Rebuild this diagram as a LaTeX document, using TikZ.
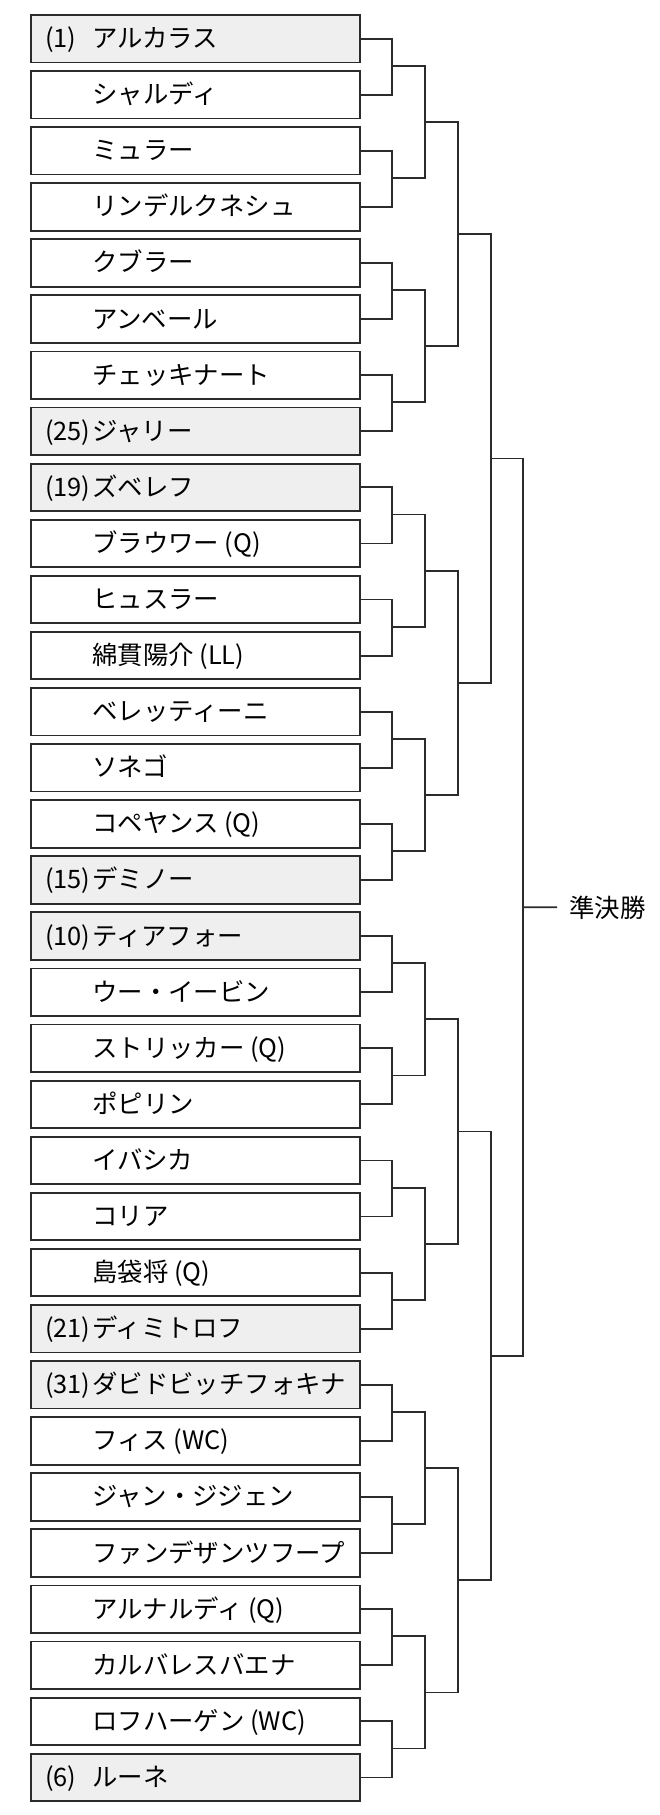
\documentclass[tikz,border=0pt]{standalone}
\usepackage{fontspec}
\setmainfont{Noto Sans CJK JP}
\definecolor{linec}{HTML}{2B2B2B}
\definecolor{seedfill}{HTML}{EFEFEF}
\begin{document}
\begin{tikzpicture}[x=1pt,y=-1pt,
  box/.style={draw=linec, fill=white, line width=1.8pt, minimum width=329pt, minimum height=47.5pt, inner sep=0pt, anchor=north west},
  seedbox/.style={box, fill=seedfill},
  lbl/.style={anchor=base west, inner sep=0pt, font=\fontsize{25.4}{30}\selectfont},
  wire/.style={draw=linec, line width=1.8pt}]
\useasboundingbox (0,0) rectangle (660,1815);
% boxes and names
\foreach \i/\f/\n in {
  0/seedbox/アルカラス, 1/box/シャルディ, 2/box/ミュラー, 3/box/リンデルクネシュ,
  4/box/クブラー, 5/box/アンベール, 6/box/チェッキナート, 7/seedbox/ジャリー,
  8/seedbox/ズベレフ, 9/box/ブラウワー (Q), 10/box/ヒュスラー, 11/box/綿貫陽介 (LL),
  12/box/ベレッティーニ, 13/box/ソネゴ, 14/box/コペヤンス (Q), 15/seedbox/デミノー,
  16/seedbox/ティアフォー, 17/box/ウー・イービン, 18/box/ストリッカー (Q), 19/box/ポピリン,
  20/box/イバシカ, 21/box/コリア, 22/box/島袋将 (Q), 23/seedbox/ディミトロフ,
  24/seedbox/ダビドビッチフォキナ, 25/box/フィス (WC), 26/box/ジャン・ジジェン, 27/box/ファンデザンツフープ,
  28/box/アルナルディ (Q), 29/box/カルバレスバエナ, 30/box/ロフハーゲン (WC), 31/seedbox/ルーネ}
{
  \node[\f] (b\i) at (30,{14+56.09*\i}) {};
  \node[lbl] (n\i) at (92,{37.8+56.09*\i+9.8}) {\n};
}
% seeds
\foreach \i/\s in {0/(1),7/(25),8/(19),15/(15),16/(10),23/(21),24/(31),31/(6)}
{
  \node[lbl] (s\i) at (45,{37.8+56.09*\i+9.8}) {\s};
}
% first round
\foreach \g in {0,...,15}
{
  \pgfmathtruncatemacro\a{2*\g}
  \pgfmathtruncatemacro\b{2*\g+1}
  \coordinate (j1-\g) at (392,{37.8+56.09*(2*\g+0.5)});
  \draw[wire] (b\a.east) -| (j1-\g);
  \draw[wire] (b\b.east) -| (j1-\g);
}
% later rounds
\foreach \L/\m/\x in {2/7/425, 3/3/458, 4/1/491, 5/0/523.3}
{
  \foreach \g in {0,...,\m}
  {
    \pgfmathtruncatemacro\P{\L-1}
    \pgfmathtruncatemacro\a{2*\g}
    \pgfmathtruncatemacro\b{2*\g+1}
    \pgfmathsetmacro\yy{37.8+56.09*(\g*2^\L+(2^\L-1)/2)}
    \coordinate (j\L-\g) at (\x,\yy);
    \draw[wire] (j\P-\a) -| (j\L-\g);
    \draw[wire] (j\P-\b) -| (j\L-\g);
  }
}
% final label
\coordinate (fend) at (557,907.2);
\draw[wire] (j5-0) -- (fend);
\node[lbl] (sf) at (569,{907.2+9.8}) {準決勝};
\end{tikzpicture}
\end{document}
